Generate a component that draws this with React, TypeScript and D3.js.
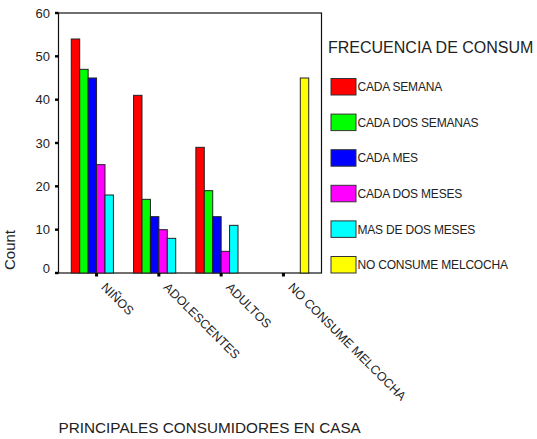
import { useEffect, useRef } from "react";
import { select, scaleLinear, scaleBand } from "d3";

const categories = ["NIÑOS", "ADOLESCENTES", "ADULTOS", "NO CONSUME MELCOCHA"];
const seriesNames = [
  "CADA SEMANA",
  "CADA DOS SEMANAS",
  "CADA MES",
  "CADA DOS MESES",
  "MAS DE DOS MESES",
  "NO CONSUME MELCOCHA",
];
const seriesColors = ["#ff0000", "#00ff00", "#0000ff", "#ff00ff", "#00ffff", "#ffff00"];
// one array per series, values per category (null = no bar)
const cadaSemana = [54, 41, 29, null];
const cadaDosSemanas = [47, 17, 19, null];
const cadaMes = [45, 13, 13, null];
const cadaDosMeses = [25, 10, 5, null];
const masDeDosMeses = [18, 8, 11, null];
const noConsume = [null, null, null, 45];
const seriesValues = [cadaSemana, cadaDosSemanas, cadaMes, cadaDosMeses, masDeDosMeses, noConsume];
const yTicks = [0, 10, 20, 30, 40, 50, 60];

const W = 537;
const H = 439;
const FONT = "Arial, 'Liberation Sans', sans-serif";

export default function App() {
  const ref = useRef<SVGSVGElement | null>(null);

  useEffect(() => {
    if (!ref.current) return;
    const svg = select(ref.current);
    svg.selectAll("*").remove();

    const left = 58.5;
    const right = 321.5;
    const top = 13;
    const bottom = 273;

    const y = scaleLinear().domain([0, 60]).range([bottom, top]);
    const x = scaleBand<string>()
      .domain(categories)
      .range([left, right])
      .paddingInner(0.188)
      .paddingOuter(0.205);
    const inner = scaleBand<number>()
      .domain(seriesNames.map((_, i) => i))
      .range([0, x.bandwidth()]);

    // frame
    svg
      .append("rect")
      .attr("x", left)
      .attr("y", top)
      .attr("width", right - left)
      .attr("height", bottom - top)
      .attr("fill", "white")
      .attr("stroke", "#111")
      .attr("stroke-width", 1.2);

    // bars
    seriesValues.forEach((vals, si) => {
      vals.forEach((v, ci) => {
        if (v == null) return;
        svg
          .append("rect")
          .attr("x", x(categories[ci])! + inner(si)!)
          .attr("y", y(v))
          .attr("width", inner.bandwidth())
          .attr("height", y(0) - y(v))
          .attr("fill", seriesColors[si])
          .attr("stroke", "#222")
          .attr("stroke-width", 1);
      });
    });

    // y ticks
    yTicks.forEach((t) => {
      svg
        .append("rect")
        .attr("x", left - 3.5)
        .attr("y", y(t) - 1.2)
        .attr("width", 3.5)
        .attr("height", 2.4)
        .attr("fill", "#000");
      svg
        .append("text")
        .attr("x", 50)
        .attr("y", y(t) + (t === 0 ? -5 : 0))
        .attr("dy", "0.35em")
        .attr("text-anchor", "end")
        .attr("font-family", FONT)
        .attr("font-size", 13)
        .attr("fill", "#222")
        .text(t);
    });

    // x ticks + labels
    categories.forEach((c) => {
      const cx = x(c)! + x.bandwidth() / 2;
      svg
        .append("rect")
        .attr("x", cx - 1.5)
        .attr("y", bottom)
        .attr("width", 3)
        .attr("height", 3.5)
        .attr("fill", "#000");
      svg
        .append("text")
        .attr("transform", `translate(${cx + 4},${bottom + 15}) rotate(45)`)
        .attr("font-family", FONT)
        .attr("font-size", 12.5)
        .attr("fill", "#222")
        .text(c);
    });

    // axis titles
    svg
      .append("text")
      .attr("transform", `translate(15,250) rotate(-90)`)
      .attr("text-anchor", "middle")
      .attr("font-family", FONT)
      .attr("font-size", 15)
      .attr("fill", "#222")
      .text("Count");
    svg
      .append("text")
      .attr("x", 58.5)
      .attr("y", 433)
      .attr("font-family", FONT)
      .attr("font-size", 15.3)
      .attr("fill", "#222")
      .text("PRINCIPALES CONSUMIDORES EN CASA");

    // legend
    svg
      .append("text")
      .attr("x", 328)
      .attr("y", 53)
      .attr("font-family", FONT)
      .attr("font-size", 16)
      .attr("fill", "#222")
      .text("FRECUENCIA DE CONSUM");
    seriesNames.forEach((name, i) => {
      const ly = 78.5 + i * 35.6;
      svg
        .append("rect")
        .attr("x", 331)
        .attr("y", ly)
        .attr("width", 25)
        .attr("height", 16.5)
        .attr("fill", seriesColors[i])
        .attr("stroke", "#333")
        .attr("stroke-width", 1);
      svg
        .append("text")
        .attr("x", 357.5)
        .attr("y", ly + 8.5)
        .attr("dy", "0.35em")
        .attr("font-family", FONT)
        .attr("font-size", 12)
        .attr("letter-spacing", -0.2)
        .attr("fill", "#222")
        .text(name);
    });
  }, []);

  return (
    <div style={{ position: "fixed", left: 0, top: 0, background: "white" }}>
      <svg ref={ref} width={W} height={H}></svg>
    </div>
  );
}
